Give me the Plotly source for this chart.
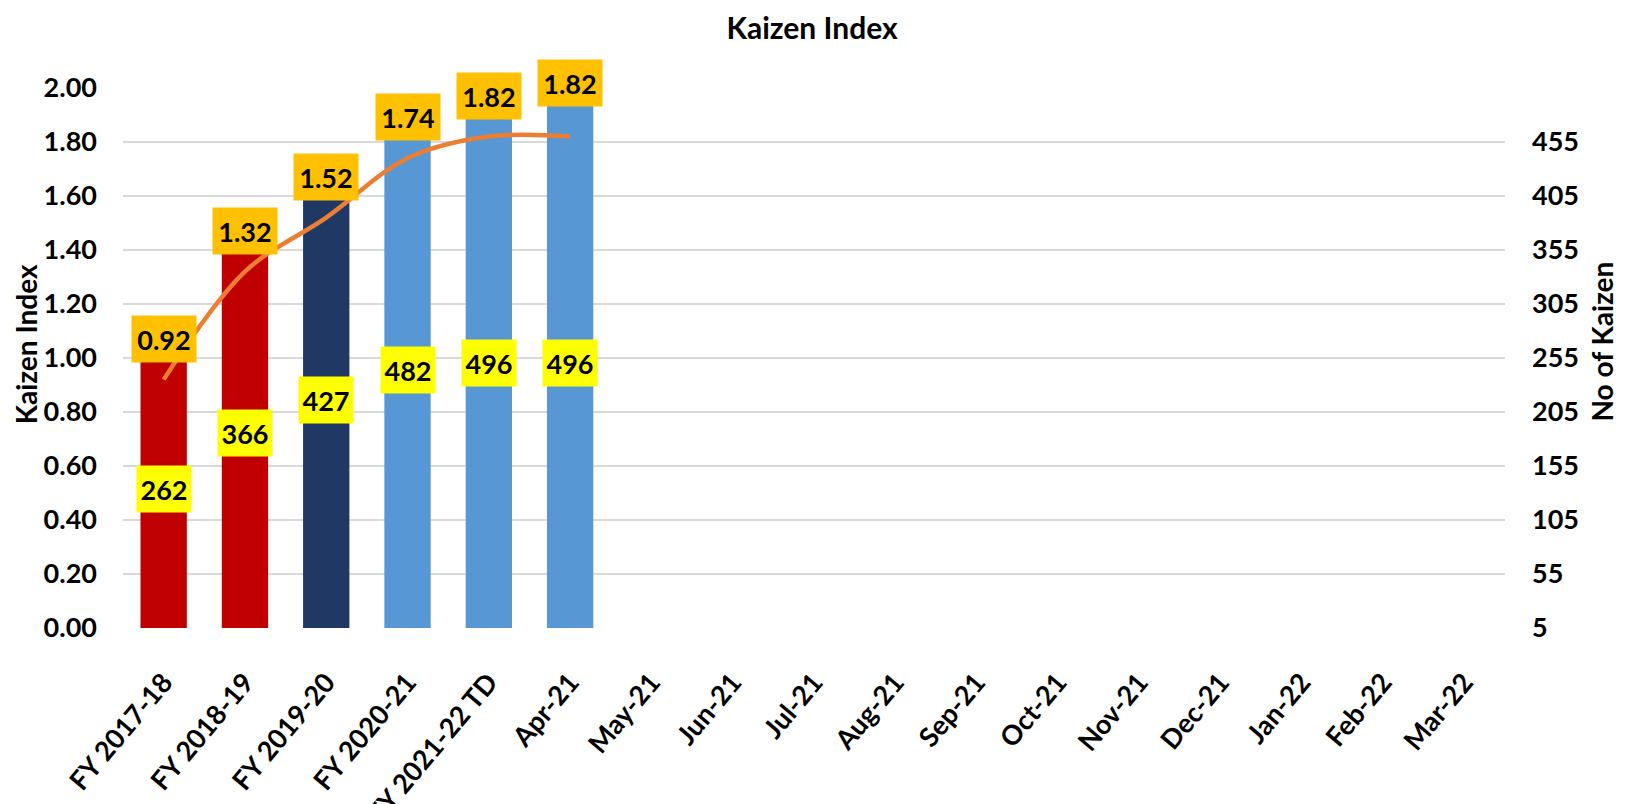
import plotly.graph_objects as go

# ---------------- data ----------------
categories = ["FY 2017-18", "FY 2018-19", "FY 2019-20", "FY 2020-21", "FY 2021-22 TD",
              "Apr-21", "May-21", "Jun-21", "Jul-21", "Aug-21", "Sep-21", "Oct-21",
              "Nov-21", "Dec-21", "Jan-22", "Feb-22", "Mar-22"]
kaizen_count = [262, 366, 427, 482, 496, 496]          # No of Kaizen (bars, right axis)
kaizen_index = [0.92, 1.32, 1.52, 1.74, 1.82, 1.82]    # Kaizen Index (line, left axis)
bar_colors = ["#C00000", "#C00000", "#203864", "#5797D3", "#5797D3", "#5797D3"]

index_ticks = [0.0, 0.2, 0.4, 0.6, 0.8, 1.0, 1.2, 1.4, 1.6, 1.8, 2.0]
count_ticks = [5, 55, 105, 155, 205, 255, 305, 355, 405, 455]
index_range = [0, 2.0]
count_range = [5, 505]

FONT = "Lato"

n_pad = len(categories) - len(kaizen_count)
fig = go.Figure()

# bars on primary y (drawn first, below)
fig.add_trace(go.Bar(
    x=categories,
    y=kaizen_count + [None] * n_pad,
    marker=dict(color=bar_colors + ["#5797D3"] * n_pad, line=dict(width=0)),
    yaxis="y",
    showlegend=False,
    hoverinfo="skip",
))

# line on overlaying y2 (drawn above bars)
fig.add_trace(go.Scatter(
    x=categories[:len(kaizen_index)],
    y=kaizen_index,
    mode="lines",
    line=dict(color="#ED7D31", width=4.5, shape="spline", smoothing=1.0),
    yaxis="y2",
    showlegend=False,
    hoverinfo="skip",
))

annotations = []
n_idx = len(kaizen_index)
for i, (c, v) in enumerate(zip(categories, kaizen_index)):
    annotations.append(dict(
        x=c, y=v, xref="x", yref="y2", text=f"<b>{v:.2f}</b>", showarrow=False,
        yshift=54 if i == n_idx - 1 else 41, bgcolor="#FFC000", width=62, height=44,
        font=dict(family=FONT, size=27, color="#000000"),
    ))
for c, v in zip(categories, kaizen_count):
    annotations.append(dict(
        x=c, y=(v + count_range[0]) / 2, xref="x", yref="y", text=f"<b>{v}</b>",
        showarrow=False, bgcolor="#FFFF00", width=52, height=44,
        font=dict(family=FONT, size=27, color="#000000"),
    ))
# axis titles
annotations.append(dict(
    x=-0.070, y=0.526, xref="paper", yref="paper", text="<b>Kaizen Index</b>",
    textangle=-90, showarrow=False, font=dict(family=FONT, size=28, color="#000000"),
    xanchor="center", yanchor="middle",
))
annotations.append(dict(
    x=1.070, y=0.53, xref="paper", yref="paper", text="<b>No of Kaizen</b>",
    textangle=-90, showarrow=False, font=dict(family=FONT, size=28, color="#000000"),
    xanchor="center", yanchor="middle",
))

fig.update_layout(
    width=1626, height=804,
    paper_bgcolor="white", plot_bgcolor="white",
    margin=dict(l=115, r=129, t=80, b=184),
    title=dict(text="<b>Kaizen Index</b>", x=0.4945, xanchor="center", y=0.974, yanchor="middle",
               font=dict(family=FONT, size=30, color="#000000")),
    bargap=0.43,
    xaxis=dict(
        type="category", categoryorder="array", categoryarray=categories,
        tickangle=-50, tickfont=dict(family=FONT, size=27, color="#000000"),
        ticktext=[f"<b>{c}</b>" for c in categories], tickvals=categories,
        showgrid=False, showline=False, ticks="", range=[-0.5, len(categories) - 0.5],
        ticklabelstandoff=32, automargin=False,
    ),
    yaxis=dict(
        side="right", range=count_range, tickvals=count_ticks,
        ticktext=[f"<b>{t}</b>" for t in count_ticks],
        tickfont=dict(family=FONT, size=27, color="#000000"),
        showgrid=True, gridcolor="#D9D9D9", gridwidth=2,
        zeroline=False, showline=False, ticks="", ticklabelstandoff=26, automargin=False,
    ),
    yaxis2=dict(
        side="left", overlaying="y", range=index_range, tickvals=index_ticks,
        ticktext=[f"<b>{t:.2f}</b>" for t in index_ticks],
        tickfont=dict(family=FONT, size=27, color="#000000"),
        showgrid=False, zeroline=False, showline=False, ticks="", ticklabelstandoff=25,
        automargin=False,
    ),
    annotations=annotations,
)

fig.write_html("out.html")
